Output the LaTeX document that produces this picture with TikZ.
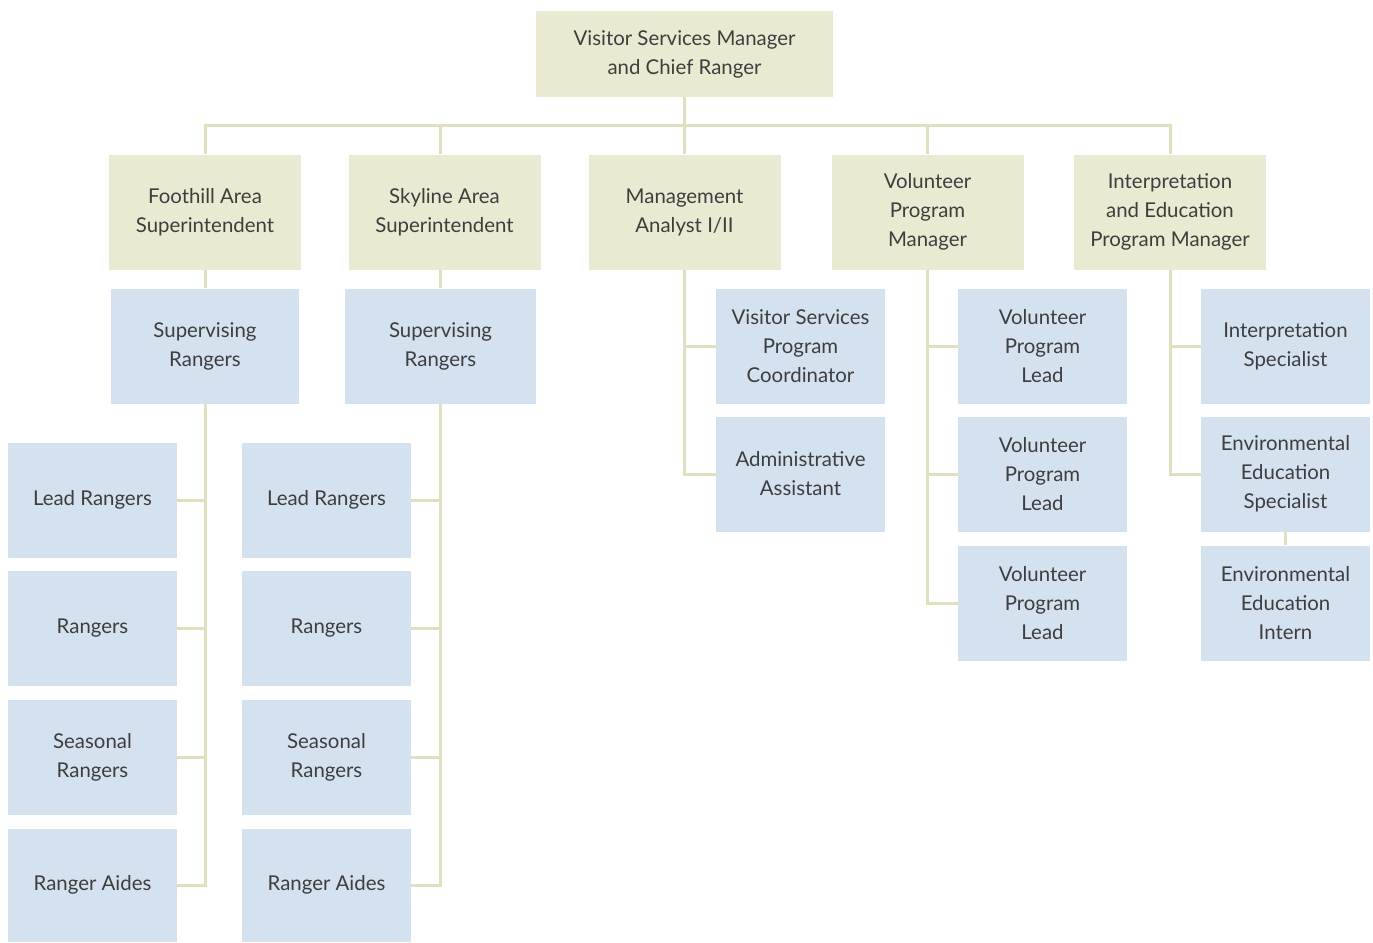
\documentclass[tikz,border=0pt]{standalone}
\usepackage{fontspec}
\setmainfont{Lato}
\definecolor{tanbox}{HTML}{EAEAD3}
\definecolor{bluebox}{HTML}{D4E1EE}
\definecolor{linkcol}{HTML}{E0E0C0}
\definecolor{txtcol}{HTML}{3E3E3E}
\begin{document}
\begin{tikzpicture}[x=0.75pt,y=-0.75pt,
  font=\fontsize{15.3}{21.75}\selectfont,
  box/.style={inner sep=0pt,align=center,text=txtcol,minimum height=86.25pt},
  mgrbox/.style={box,fill=tanbox,minimum width=144pt},
  staffbox/.style={box,fill=bluebox,minimum width=126.75pt},
  link/.style={draw=linkcol,line width=2.25pt}]
  \useasboundingbox (0,0) rectangle (1373,942);
  % top of the chart
  \node[box,fill=tanbox,minimum width=222.75pt,minimum height=63.75pt] (top) at (684.5,54)
    {Visitor Services Manager\\and Chief Ranger};
  \coordinate (bus) at (684.5,125);
  % managers
  \node[mgrbox] (foot) at (205,212) {Foothill Area\\Superintendent};
  \node[mgrbox] (sky) at (444.5,212) {Skyline Area\\Superintendent};
  \node[mgrbox] (mgmt) at (684.5,212) {Management\\Analyst I/II};
  \node[mgrbox] (vol) at (927.5,212) {Volunteer\\Program\\Manager};
  \node[mgrbox] (interp) at (1170,212) {Interpretation\\and Education\\Program Manager};
  % ranger columns
  \node[staffbox,minimum width=141pt] (footsup) at (205,346) {Supervising\\Rangers};
  \node[staffbox,minimum width=143.25pt] (skysup) at (440.5,346) {Supervising\\Rangers};
  \node[staffbox] (flead) at (92.5,500) {Lead Rangers};
  \node[staffbox] (frang) at (92.5,628) {Rangers};
  \node[staffbox] (fseas) at (92.5,757) {Seasonal\\Rangers};
  \node[staffbox,minimum height=84.75pt] (faides) at (92.5,885) {Ranger Aides};
  \node[staffbox] (slead) at (326.5,500) {Lead Rangers};
  \node[staffbox] (srang) at (326.5,628) {Rangers};
  \node[staffbox] (sseas) at (326.5,757) {Seasonal\\Rangers};
  \node[staffbox,minimum height=84.75pt] (saides) at (326.5,885) {Ranger Aides};
  % other staff
  \node[staffbox] (vsc) at (800.5,346) {Visitor Services\\Program\\Coordinator};
  \node[staffbox] (admin) at (800.5,474) {Administrative\\Assistant};
  \node[staffbox] (vleadA) at (1042.5,346) {Volunteer\\Program\\Lead};
  \node[staffbox] (vleadB) at (1042.5,474) {Volunteer\\Program\\Lead};
  \node[staffbox] (vleadC) at (1042.5,603) {Volunteer\\Program\\Lead};
  \node[staffbox] (ispec) at (1285.5,346) {Interpretation\\Specialist};
  \node[staffbox] (ees) at (1285.5,474) {Environmental\\Education\\Specialist};
  \node[staffbox] (eei) at (1285.5,603) {Environmental\\Education\\Intern};
  % connectors
  \begin{scope}[on background layer/.try]
  \draw[link] (foot.north) |- (bus) -| (interp.north);
  \draw[link] (top.south) -- (mgmt.north);
  \draw[link] (skysup.north |- sky.north) -- (skysup.north |- bus);
  \draw[link] (vol.north) -- (vol.north |- bus);
  \draw[link] (foot.south) -- (footsup.north);
  \draw[link] (skysup.north |- sky.south) -- (skysup.north);
  \draw[link] (footsup.south) |- (faides.east);
  \foreach \n in {flead,frang,fseas}
    \draw[link] (\n.east) -- (\n.east -| footsup.south);
  \draw[link] (skysup.south) |- (saides.east);
  \foreach \n in {slead,srang,sseas}
    \draw[link] (\n.east) -- (\n.east -| skysup.south);
  \draw[link] (mgmt.south) |- (admin.west);
  \draw[link] (vsc.west) -- (vsc.west -| mgmt.south);
  \draw[link] (vol.south) |- (vleadC.west);
  \foreach \n in {vleadA,vleadB}
    \draw[link] (\n.west) -- (\n.west -| vol.south);
  \draw[link] (interp.south) |- (ees.west);
  \draw[link] (ispec.west) -- (ispec.west -| interp.south);
  \draw[link] (ees.south) -- (eei.north);
  \end{scope}
\end{tikzpicture}
\end{document}
